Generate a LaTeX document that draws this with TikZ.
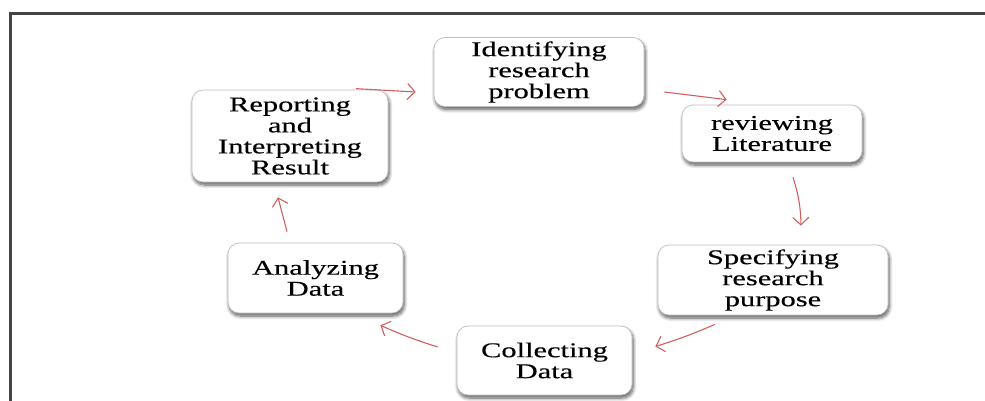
\documentclass[tikz,border=0pt]{standalone}
\usepackage{fontspec}
\setmainfont{Liberation Serif}
\newfontfamily\boxfont[FakeStretch=1.45,FakeBold=0.3]{Liberation Serif}
\usetikzlibrary{calc,arrows.meta,shadows.blur}
\definecolor{framegray}{RGB}{68,68,68}
\definecolor{boxline}{RGB}{190,190,190}
\definecolor{arrowred}{RGB}{210,95,95}
\tikzset{
  stagebox/.style={draw=boxline, line width=0.7pt, fill=white, rounded corners=11pt,
    align=center, inner sep=2pt,
    font=\boxfont\fontsize{21}{21}\selectfont,
    blur shadow={shadow xshift=1.2pt, shadow yshift=-3pt, shadow blur radius=3.5pt,
      shadow blur steps=8, shadow opacity=65}},
  flow/.style={draw=arrowred, line width=1.1pt,
    -{Straight Barb[length=7.5pt,width=16pt,line width=1.1pt]}}
}
\begin{document}
\begin{tikzpicture}[x=1pt,y=-1pt]
  \useasboundingbox (0,0) rectangle (985,401);
  % frame
  \draw[framegray, line width=3pt] (986,14) -- (10,14) -- (10,402);

  % stages of the cycle
  \node[stagebox, minimum width=210pt, minimum height=69pt] (idf) at (539,72)
    {Identifying\\research\\problem};
  \node[stagebox, minimum width=180pt, minimum height=57pt] (rev) at (772,133.5)
    {reviewing\\Literature};
  \node[stagebox, minimum width=230pt, minimum height=70pt] (spec) at (773,280)
    {Specifying\\research\\purpose};
  \node[stagebox, minimum width=175pt, minimum height=69pt] (col) at (544.5,360.5)
    {Collecting\\Data};
  \node[stagebox, minimum width=175pt, minimum height=70pt] (ana) at (315.5,278)
    {Analyzing\\Data};
  \node[stagebox, minimum width=196pt, minimum height=92pt] (rep) at (290,136)
    {Reporting\\and\\Interpreting\\Result};

  % connectors
  \draw[flow] ($(rep.north)+(66,-1)$) -- ($(idf.west)+(-18,20)$);
  \draw[flow] ($(idf.east)+(20,20)$) -- ($(rev.north west)+(45,-5)$);
  \draw[flow] ($(rev.south)+(21,15)$) to[bend left=8] ($(spec.north)+(28,-19)$);
  \draw[flow] ($(spec.south)+(-58,9)$) to[bend left=3] ($(col.east)+(23,-14)$);
  \draw[flow] ($(col.west)+(-19,-13.5)$) to[bend left=3] ($(ana.south east)+(-23,12)$);
  \draw[flow] ($(ana.north)+(-28.5,-11)$) -- ($(rep.south)+(-12,15)$);
\end{tikzpicture}
\end{document}
